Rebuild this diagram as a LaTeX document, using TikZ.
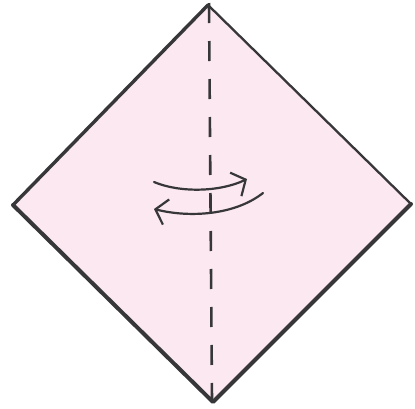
\documentclass[tikz,border=0pt]{standalone}
\usepackage{tikz}
\usetikzlibrary{arrows.meta}
\definecolor{paperpink}{RGB}{251,232,240}
\definecolor{penink}{RGB}{55,55,58}

\begin{document}
\begin{tikzpicture}[x=1pt, y=-1pt,
      edge/.style={penink, line width=3.4pt, line cap=round, line join=round},
      foldline/.style={penink, line width=2.6pt, dash pattern=on 20pt off 18pt},
      turn/.style={penink, line width=2.2pt, line cap=round, -{Straight Barb[length=11pt, width=26pt, line width=2.2pt]}}
    ]
      \useasboundingbox (0,0) rectangle (415,408);
      % corners of the square
      \coordinate (top) at (208,5);
      \coordinate (left) at (13,205);
      \coordinate (right) at (411,204);
      \coordinate (bottom) at (213,402);

      % paper
      \fill[paperpink] (top) -- (right) -- (bottom) -- (left) -- cycle;
      \draw[edge] (left) -- (top);
      \draw[edge, line width=2.3pt] (top) -- (right);
      \draw[edge, line width=4pt] (right) -- (bottom) -- (left);

      % valley fold, vertical
      \draw[foldline] (209,3) -- (212,400);

      % fold and unfold
      \draw[turn] (154,182) .. controls (180,193) and (220,192) .. (247,179);
      \draw[turn] (263,193) .. controls (235,215) and (190,218) .. (154,209);
    \end{tikzpicture}
\end{document}
